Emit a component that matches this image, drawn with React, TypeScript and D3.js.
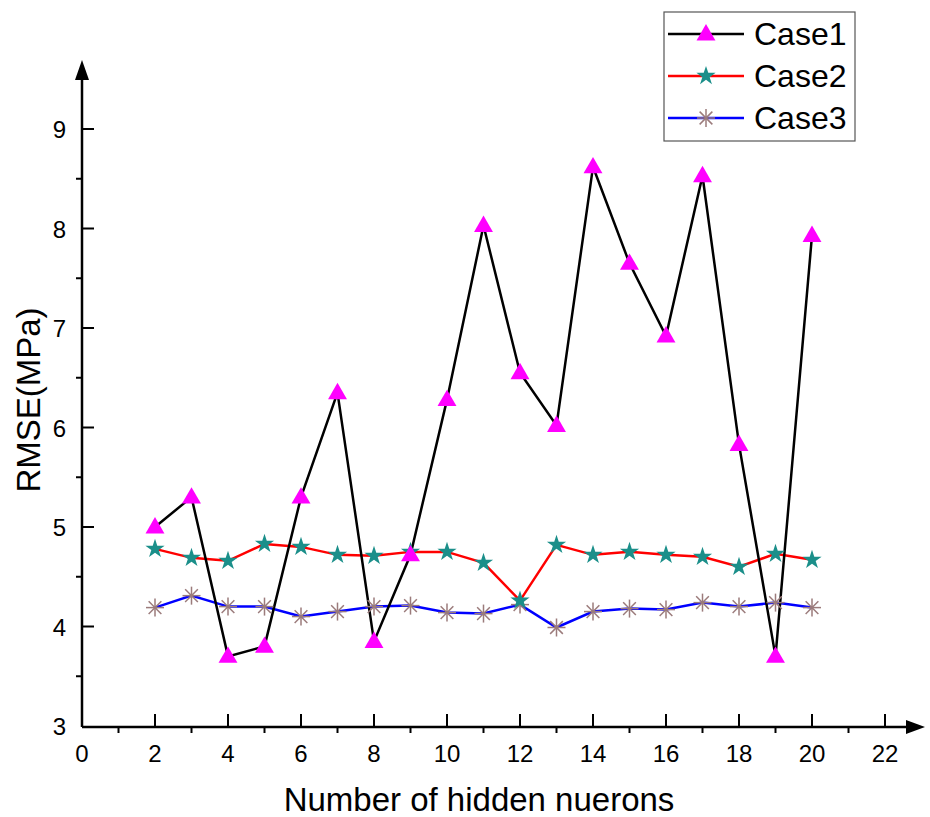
import React from "react";
import * as d3 from "d3";

const xs = [2, 3, 4, 5, 6, 7, 8, 9, 10, 11, 12, 13, 14, 15, 16, 17, 18, 19, 20];
const case1 = [5.0, 5.3, 3.7, 3.8, 5.3, 6.35, 3.85, 4.72, 6.28, 8.03, 6.55, 6.02, 8.62, 7.65, 6.92, 8.53, 5.83, 3.7, 7.93];
const case2 = [4.78, 4.69, 4.66, 4.83, 4.8, 4.72, 4.71, 4.75, 4.75, 4.64, 4.26, 4.82, 4.72, 4.75, 4.72, 4.7, 4.6, 4.73, 4.67];
const case3 = [4.19, 4.31, 4.2, 4.2, 4.1, 4.15, 4.2, 4.21, 4.14, 4.13, 4.22, 3.99, 4.15, 4.18, 4.17, 4.24, 4.2, 4.24, 4.19];
const xMajorTicks = [0, 2, 4, 6, 8, 10, 12, 14, 16, 18, 20, 22];
const xMinorTicks = [1, 3, 5, 7, 9, 11, 13, 15, 17, 19, 21];
const yMajorTicks = [3, 4, 5, 6, 7, 8, 9];
const yMinorTicks = [3.5, 4.5, 5.5, 6.5, 7.5, 8.5];
const seriesNames = ["Case1", "Case2", "Case3"];

const FONT = "'Liberation Sans', Arial, sans-serif";
const x = d3.scaleLinear().domain([0, 22]).range([82, 885]);
const y = d3.scaleLinear().domain([3, 9]).range([726, 129]);

const lineColors = ["#000000", "#ff0000", "#0000ff"];
const markerColors = ["#ff00ff", "#1b8f8a", "#9b7b7b"];

function Marker({ kind, cx, cy }: { kind: number; cx: number; cy: number }) {
  if (kind === 0) {
    const s = d3.symbol(d3.symbolTriangle, 155)();
    return <path d={s as string} transform={`translate(${cx},${cy + 1})`} fill={markerColors[0]} />;
  }
  if (kind === 1) {
    const s = d3.symbol(d3.symbolStar, 115)();
    return <path d={s as string} transform={`translate(${cx},${cy})`} fill={markerColors[1]} />;
  }
  const r = 9;
  const lines = [0, 45, 90, 135].map((a) => {
    const rad = (a * Math.PI) / 180;
    const dx = Math.cos(rad) * r;
    const dy = Math.sin(rad) * r;
    return <line key={a} x1={cx - dx} y1={cy - dy} x2={cx + dx} y2={cy + dy} stroke={markerColors[2]} strokeWidth={1.5} />;
  });
  return <g>{lines}</g>;
}

export default function App() {
  const data = [case1, case2, case3];
  const lineGen = d3
    .line<number>()
    .x((_, i) => x(xs[i]))
    .y((d) => y(d));
  return (
    <svg width={930} height={817} style={{ display: "block", position: "absolute", left: 0, top: 0 }} fontFamily={FONT}>
      <rect width={930} height={817} fill="#fff" />
      {/* axes */}
      <line x1={82} y1={727} x2={910} y2={727} stroke="#000" strokeWidth={2.5} />
      <path d="M925,727 L906,720 L906,734 Z" fill="#000" />
      <line x1={82} y1={727} x2={82} y2={78} stroke="#000" strokeWidth={2.5} />
      <path d="M82,60 L75,80 L89,80 Z" fill="#000" />
      {xMajorTicks.map((t) => (
        <g key={"xm" + t}>
          {t !== 0 && <line x1={x(t)} x2={x(t)} y1={727} y2={714} stroke="#000" strokeWidth={2} />}
          <text x={x(t)} y={762} textAnchor="middle" fontSize={24}>
            {t}
          </text>
        </g>
      ))}
      {xMinorTicks.map((t) => (
        <line key={"xn" + t} x1={x(t)} x2={x(t)} y1={727} y2={733} stroke="#000" strokeWidth={2} />
      ))}
      {yMajorTicks.map((t) => (
        <g key={"ym" + t}>
          {t !== 3 && <line x1={82} x2={94} y1={y(t)} y2={y(t)} stroke="#000" strokeWidth={2} />}
          <text x={66} y={y(t) + 9} textAnchor="end" fontSize={24}>
            {t}
          </text>
        </g>
      ))}
      {yMinorTicks.map((t) => (
        <line key={"yn" + t} x1={76} x2={82} y1={y(t)} y2={y(t)} stroke="#000" strokeWidth={2} />
      ))}
      <text x={479} y={811} textAnchor="middle" fontSize={33}>
        Number of hidden nuerons
      </text>
      <text transform="translate(40,400) rotate(-90)" textAnchor="middle" fontSize={33}>
        RMSE(MPa)
      </text>
      {/* series */}
      {[2, 1, 0].map((k) => (
        <path key={"l" + k} d={lineGen(data[k]) as string} fill="none" stroke={lineColors[k]} strokeWidth={2.5} />
      ))}
      {[2, 1, 0].map((k) => (
        <g key={"m" + k}>
          {data[k].map((v, i) => (
            <Marker key={i} kind={k} cx={x(xs[i])} cy={y(v)} />
          ))}
        </g>
      ))}
      {/* legend */}
      <rect x={664} y={12} width={191} height={129} fill="#fff" stroke="#555" strokeWidth={1.2} />
      {seriesNames.map((n, k) => {
        const ly = 34 + k * 42;
        return (
          <g key={n}>
            <line x1={668} x2={744} y1={ly} y2={ly} stroke={lineColors[k]} strokeWidth={2.5} />
            <Marker kind={k} cx={706} cy={ly} />
            <text x={754} y={ly + 11} fontSize={32}>
              {n}
            </text>
          </g>
        );
      })}
    </svg>
  );
}
